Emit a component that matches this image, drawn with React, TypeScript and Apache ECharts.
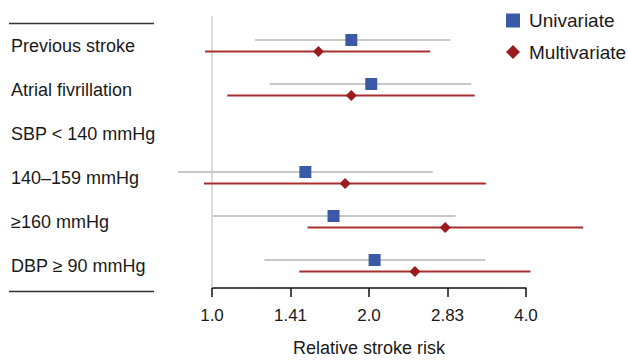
import React, { useEffect, useRef } from "react";
import * as echarts from "echarts";

const categories = [
  "Previous stroke",
  "Atrial fivrillation",
  "SBP < 140 mmHg",
  "140–159 mmHg",
  "≥160 mmHg",
  "DBP ≥ 90 mmHg",
];

// Univariate relative risk with 95% CI (null = reference category)
const uniEst: (number | null)[] = [1.85, 2.02, null, 1.51, 1.71, 2.05];
const uniLow: (number | null)[] = [1.21, 1.29, null, 0.86, 1.0, 1.26];
const uniHigh: (number | null)[] = [2.86, 3.14, null, 2.65, 2.93, 3.34];

// Multivariate relative risk with 95% CI
const multiEst: (number | null)[] = [1.6, 1.85, null, 1.8, 2.8, 2.45];
const multiLow: (number | null)[] = [0.97, 1.07, null, 0.965, 1.525, 1.47];
const multiHigh: (number | null)[] = [2.62, 3.19, null, 3.35, 5.15, 4.08];

const tickValues = [1.0, 1.41, 2.0, 2.83, 4.0];
const tickLabels = ["1.0", "1.41", "2.0", "2.83", "4.0"];

const BLUE = "#3a5aa8";
const RED = "#9b1c1f";
const RED_LINE = "#a83030";
const GRAY_LINE = "#c8c8c8";
const FONT = "'Liberation Sans', Arial, sans-serif";

const lg = (v: number) => Math.log2(v);

function ciData(est: (number | null)[], lo: (number | null)[], hi: (number | null)[]) {
  const out: number[][] = [];
  est.forEach((e, i) => {
    if (e == null || lo[i] == null || hi[i] == null) return;
    out.push([i, lg(lo[i] as number), lg(hi[i] as number)]);
  });
  return out;
}

function pointData(est: (number | null)[]) {
  const out: number[][] = [];
  est.forEach((e, i) => {
    if (e == null) return;
    out.push([lg(e), i]);
  });
  return out;
}

function ciRenderer(color: string, dy: number, width: number) {
  return (params: any, api: any) => {
    const row = api.value(0);
    const p1 = api.coord([api.value(1), row]);
    const p2 = api.coord([api.value(2), row]);
    return {
      type: "line",
      shape: { x1: p1[0], y1: p1[1] + dy, x2: p2[0], y2: p2[1] + dy },
      style: { stroke: color, lineWidth: width },
    };
  };
}

export default function App() {
  const ref = useRef<HTMLDivElement>(null);

  useEffect(() => {
    if (!ref.current) return;
    const chart = echarts.init(ref.current, undefined, { renderer: "svg" });
    const xMax = lg(tickValues[tickValues.length - 1]);

    chart.setOption({
      animation: false,
      backgroundColor: "#ffffff",
      textStyle: { fontFamily: FONT },
      grid: { left: 212, right: 102, top: 24, bottom: 71 },
      legend: {
        data: [
          { name: "Univariate", icon: "rect" },
          { name: "Multivariate", icon: "diamond" },
        ],
        orient: "vertical",
        left: 501,
        top: 6,
        itemWidth: 14,
        itemHeight: 14,
        itemGap: 12.5,
        textStyle: { fontSize: 19, color: "#1a1a1a", fontFamily: FONT, padding: [0, 0, 0, 4] },
      },
      xAxis: {
        type: "value",
        min: 0,
        max: xMax,
        interval: 0.5,
        splitLine: { show: false },
        axisLine: { show: true, lineStyle: { color: "#111", width: 1.5 } },
        axisTick: { show: true, length: 9, lineStyle: { color: "#111", width: 1.5 } },
        axisLabel: {
          fontSize: 17,
          color: "#1a1a1a",
          fontFamily: FONT,
          margin: 19,
          formatter: (v: number) => {
            const i = Math.round(v / 0.5);
            return tickLabels[i] ?? "";
          },
        },
        name: "Relative stroke risk",
        nameLocation: "middle",
        nameGap: 51,
        nameTextStyle: { fontSize: 18, color: "#1a1a1a", fontFamily: FONT },
      },
      yAxis: {
        type: "category",
        inverse: true,
        data: categories,
        axisLine: { show: false },
        axisTick: { show: false },
        splitLine: { show: false },
        axisLabel: {
          align: "left",
          margin: 201,
          fontSize: 18,
          color: "#1a1a1a",
          fontFamily: FONT,
          padding: [0, 0, 5, 0],
        },
      },
      graphic: [
        {
          type: "line",
          shape: { x1: 9, y1: 23.5, x2: 154, y2: 23.5 },
          style: { stroke: "#333", lineWidth: 1.3 },
        },
        {
          type: "line",
          shape: { x1: 9, y1: 291.5, x2: 154, y2: 291.5 },
          style: { stroke: "#333", lineWidth: 1.3 },
        },
      ],
      series: [
        {
          name: "ref",
          type: "custom",
          clip: false,
          silent: true,
          data: [[0, lg(1.0)]],
          encode: { x: 1, y: 0 },
          renderItem: (params: any, api: any) => {
            const cs = params.coordSys;
            const p = api.coord([api.value(1), 0]);
            return {
              type: "line",
              shape: { x1: p[0], y1: cs.y - 8, x2: p[0], y2: cs.y + cs.height },
              style: { stroke: "#c4c4c4", lineWidth: 1.2 },
            };
          },
          z: 1,
        },
        {
          name: "uniCI",
          type: "custom",
          clip: false,
          silent: true,
          data: ciData(uniEst, uniLow, uniHigh),
          encode: { x: [1, 2], y: 0 },
          renderItem: ciRenderer(GRAY_LINE, -6, 2),
          z: 2,
        },
        {
          name: "multiCI",
          type: "custom",
          clip: false,
          silent: true,
          data: ciData(multiEst, multiLow, multiHigh),
          encode: { x: [1, 2], y: 0 },
          renderItem: ciRenderer(RED_LINE, 5.5, 1.8),
          z: 2,
        },
        {
          name: "Univariate",
          type: "scatter",
          symbol: "rect",
          symbolSize: 12,
          symbolOffset: [0, -6],
          itemStyle: { color: BLUE, opacity: 1 },
          data: pointData(uniEst),
          z: 5,
        },
        {
          name: "Multivariate",
          type: "scatter",
          symbol: "diamond",
          symbolSize: 11,
          symbolOffset: [0, 5.5],
          itemStyle: { color: RED, opacity: 1 },
          data: pointData(multiEst),
          z: 5,
        },
      ],
    });

    return () => chart.dispose();
  }, []);

  return (
    <div
      ref={ref}
      style={{ position: "absolute", left: 0, top: 0, width: 628, height: 362 }}
    />
  );
}
